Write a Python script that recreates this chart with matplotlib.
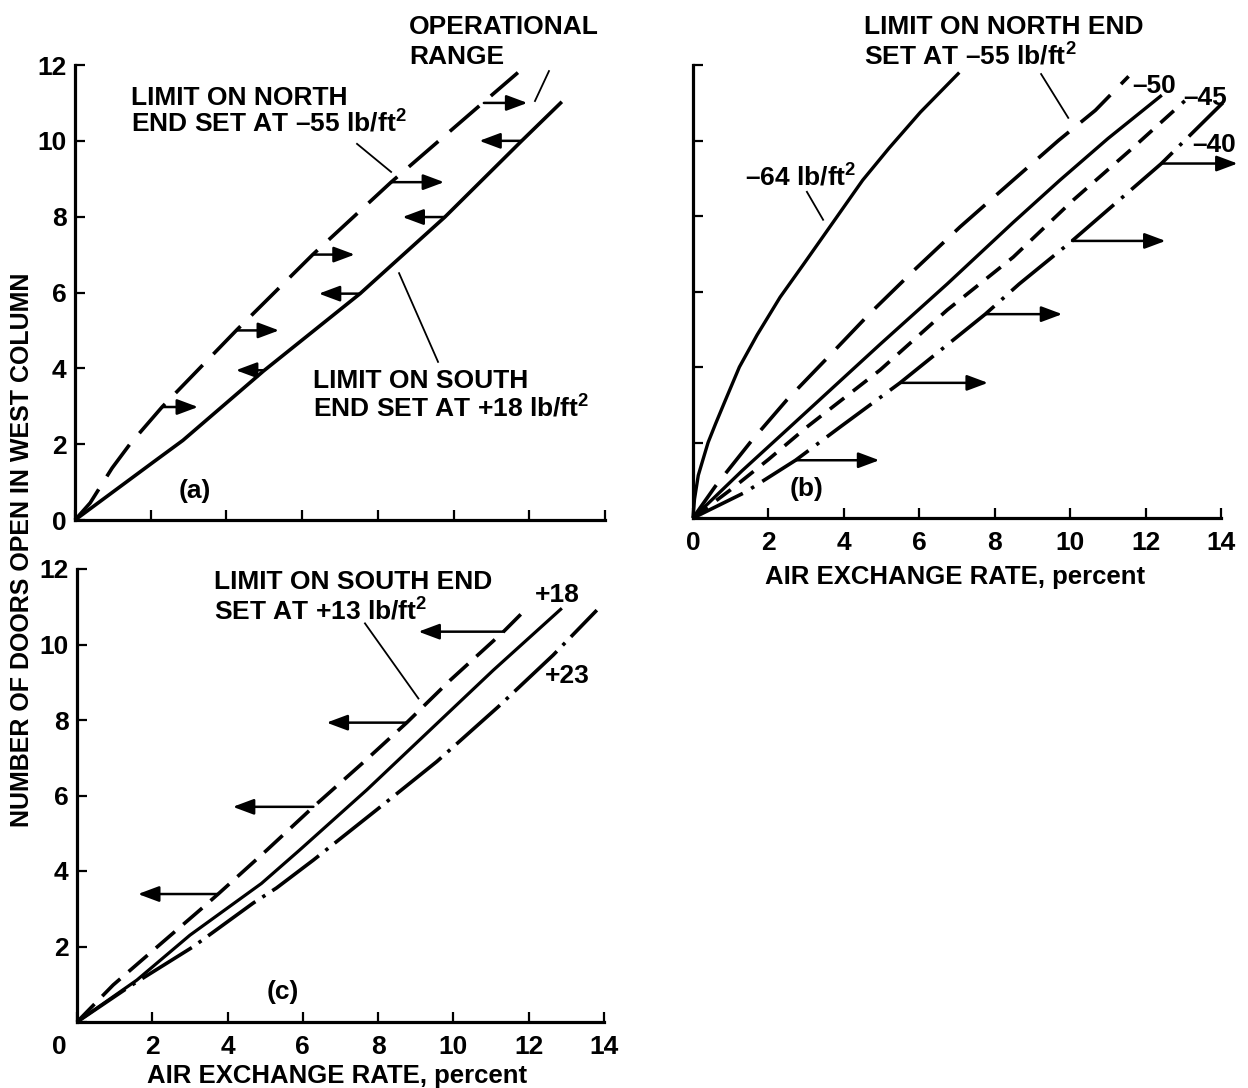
import matplotlib
matplotlib.use('Agg')
import matplotlib.pyplot as plt
from matplotlib.transforms import ScaledTranslation

plt.rcParams['font.family'] = ['Liberation Sans', 'DejaVu Sans']
plt.rcParams['font.weight'] = 'bold'
plt.rcParams['mathtext.fontset'] = 'custom'
plt.rcParams['mathtext.rm'] = 'Liberation Sans:bold'
plt.rcParams['mathtext.bf'] = 'Liberation Sans:bold'
plt.rcParams['mathtext.it'] = 'Liberation Sans:bold'
plt.rcParams['lines.scale_dashes'] = False

# ---------------- data ----------------
x_ticks = [0, 2, 4, 6, 8, 10, 12, 14]
y_ticks = [0, 2, 4, 6, 8, 10, 12]
x_tick_labels = ['0', '2', '4', '6', '8', '10', '12', '14']
y_tick_labels_a = ['0', '2', '4', '6', '8', '10', '12']
y_tick_labels_c = ['', '2', '4', '6', '8', '10', '12']

# Panel (a)
a_north_x = [0.0, 0.4, 0.98, 1.45, 2.3, 4.28, 6.28, 8.35, 10.77, 11.7]
a_north_y = [0.0, 0.45, 1.37, 2.0, 2.98, 5.02, 7.0, 8.91, 11.0, 11.8]
a_south_x = [0.0, 2.1, 2.85, 4.98, 7.53, 9.77, 11.8, 12.86]
a_south_y = [0.0, 1.55, 2.1, 3.93, 5.97, 7.99, 10.0, 11.03]
a_right_arrow_y = [2.98, 5.0, 7.0, 8.91, 11.0]
a_right_arrow_tail = [2.3, 4.28, 6.28, 8.35, 10.8]
a_right_arrow_tip = [3.25, 5.39, 7.39, 9.75, 11.95]
a_left_arrow_y = [3.95, 5.97, 7.99, 10.0]
a_left_arrow_tail = [4.98, 7.53, 9.77, 11.8]
a_left_arrow_tip = [4.25, 6.44, 8.65, 10.68]

# Panel (b)
b64_x = [0.0, 0.04, 0.14, 0.25, 0.4, 0.6, 0.85, 1.23, 1.7, 2.31, 2.93, 3.55, 4.5, 5.2, 6.03, 7.06]
b64_y = [0.0, 0.5, 1.13, 1.5, 2.0, 2.5, 3.1, 4.0, 4.85, 5.85, 6.72, 7.6, 8.95, 9.8, 10.75, 11.8]
b55_x = [0.0, 0.6, 1.54, 2.49, 3.6, 4.7, 5.9, 7.08, 8.49, 9.69, 10.67, 11.55]
b55_y = [0.0, 0.85, 2.03, 3.13, 4.28, 5.43, 6.6, 7.71, 8.95, 10.0, 10.8, 11.7]
b50_x = [0.0, 1.3, 2.57, 4.96, 6.74, 8.49, 9.73, 11.0, 12.43]
b50_y = [0.0, 1.25, 2.41, 4.6, 6.2, 7.83, 8.95, 10.05, 11.2]
b45_x = [0.0, 1.0, 2.0, 3.02, 4.96, 6.74, 8.49, 10.08, 11.6, 13.04]
b45_y = [0.0, 0.75, 1.55, 2.41, 3.92, 5.51, 6.91, 8.42, 9.75, 11.05]
b40_x = [0.0, 1.38, 2.72, 3.9, 5.49, 7.75, 8.65, 10.05, 12.42, 14.05]
b40_y = [0.0, 0.68, 1.53, 2.41, 3.58, 5.4, 6.2, 7.34, 9.39, 11.0]
b_arrow_y = [1.53, 3.58, 5.4, 7.34, 9.39]
b_arrow_tail = [2.72, 5.49, 7.75, 10.05, 12.42]
b_arrow_tip = [4.94, 7.82, 9.79, 12.53, 14.44]

# Panel (c)
c13_x = [0.0, 0.96, 2.13, 3.27, 3.75, 5.05, 6.28, 7.61, 8.76, 9.91, 11.33, 11.95]
c13_y = [0.0, 0.98, 1.99, 2.97, 3.39, 4.56, 5.70, 6.88, 7.93, 9.05, 10.34, 10.96]
c18_x = [0.0, 1.59, 3.0, 4.9, 5.92, 7.7, 9.47, 11.06, 12.88]
c18_y = [0.0, 1.11, 2.3, 3.67, 4.56, 6.15, 7.82, 9.32, 10.96]
c23_x = [0.0, 1.41, 3.08, 4.68, 5.3, 6.28, 7.96, 9.56, 11.19, 12.65, 13.81]
c23_y = [0.0, 0.95, 1.99, 3.15, 3.55, 4.29, 5.62, 6.9, 8.35, 9.72, 10.91]
c_arrow_y = [3.39, 5.7, 7.93, 10.34]
c_arrow_tail = [3.75, 6.28, 8.76, 11.33]
c_arrow_tip = [1.62, 4.14, 6.63, 9.07]

# ---------------- figure ----------------
W, H = 1248, 1088
fig = plt.figure(figsize=(W / 100, H / 100), dpi=100)


def box(l, t, r, b):
    return [l / W, 1 - b / H, (r - l) / W, (b - t) / H]


ax_a = fig.add_axes(box(75, 65, 605, 520))
ax_b = fig.add_axes(box(693, 65, 1221, 518))
ax_c = fig.add_axes(box(77, 569, 604, 1022))

TICK_FS = 19
for ax in (ax_a, ax_b, ax_c):
    ax.set_xlim(0, 14)
    ax.set_ylim(0, 12)
    ax.patch.set_visible(False)
    for s in ('top', 'right'):
        ax.spines[s].set_visible(False)
    for s in ('left', 'bottom'):
        ax.spines[s].set_linewidth(2.3)
        ax.spines[s].set_capstyle('projecting')
    ax.set_xticks(x_ticks)
    ax.set_yticks(y_ticks)
    ax.set_xticklabels(x_tick_labels, fontsize=TICK_FS, fontweight='bold')
    ax.tick_params(direction='in', length=7.5, width=1.6)
    ax.tick_params(axis='x', pad=9)
    ax.tick_params(axis='y', pad=6)

ax_a.set_yticklabels(y_tick_labels_a, fontsize=TICK_FS, fontweight='bold')
ax_a.tick_params(axis='x', labelbottom=False)
ax_b.set_yticklabels(y_tick_labels_a, fontsize=TICK_FS, fontweight='bold')
ax_b.tick_params(axis='y', labelleft=False)
ax_c.set_yticklabels(y_tick_labels_c, fontsize=TICK_FS, fontweight='bold')
lab0 = ax_c.get_xticklabels()[0]
lab0.set_transform(lab0.get_transform() + ScaledTranslation(-0.18, 0, fig.dpi_scale_trans))

LW = 2.6
K = 'black'


def curve(ax, x, y, ls='-', lw=LW):
    ax.plot(x, y, color=K, lw=lw, ls=ls, clip_on=False,
            solid_capstyle='butt', dash_capstyle='butt', solid_joinstyle='round')


def arrow(ax, tail, tip, y):
    ax.annotate('', xy=(tip, y), xytext=(tail, y), annotation_clip=False,
                arrowprops=dict(arrowstyle='-|>,head_length=0.75,head_width=0.28',
                                color=K, lw=1.8, mutation_scale=17,
                                shrinkA=0, shrinkB=0))


def pointer(ax, x, y):
    ax.plot(x, y, color=K, lw=1.3, clip_on=False)


# panel (a)
curve(ax_a, a_north_x, a_north_y, ls=(0, (28, 11)))
curve(ax_a, a_south_x, a_south_y)
for y, t0, t1 in zip(a_right_arrow_y, a_right_arrow_tail, a_right_arrow_tip):
    arrow(ax_a, t0, t1, y)
for y, t0, t1 in zip(a_left_arrow_y, a_left_arrow_tail, a_left_arrow_tip):
    arrow(ax_a, t0, t1, y)
pointer(ax_a, [7.45, 8.35], [9.92, 9.18])
pointer(ax_a, [8.56, 9.59], [6.51, 4.17])
pointer(ax_a, [12.15, 12.52], [11.05, 11.84])

# panel (b)
curve(ax_b, b64_x, b64_y, lw=2.4)
curve(ax_b, b55_x, b55_y, ls=(0, (29, 11)))
curve(ax_b, b50_x, b50_y, lw=2.4)
curve(ax_b, b45_x, b45_y, ls=(0, (13, 8)))
curve(ax_b, b40_x, b40_y, ls=(0, (40, 7, 2.5, 7)))
for y, t0, t1 in zip(b_arrow_y, b_arrow_tail, b_arrow_tip):
    arrow(ax_b, t0, t1, y)
pointer(ax_b, [3.02, 3.45], [8.64, 7.9])
pointer(ax_b, [9.23, 9.95], [11.76, 10.6])

# panel (c)
curve(ax_c, c13_x, c13_y, ls=(0, (18, 8)))
curve(ax_c, c18_x, c18_y, lw=2.3)
curve(ax_c, c23_x, c23_y, ls=(0, (42, 6, 2.5, 6)))
for y, t0, t1 in zip(c_arrow_y, c_arrow_tail, c_arrow_tip):
    arrow(ax_c, t0, t1, y)
pointer(ax_c, [7.65, 9.07], [10.56, 8.57])

# ---------------- texts ----------------
SUP = r'$^{\mathbf{2}}$'


def ftext(px, py, s, size=19, ha='left'):
    fig.text(px / W, 1 - py / H, s, ha=ha, va='baseline', fontsize=size,
             fontweight='bold')


ftext(409, 34, 'OPERATIONAL')
ftext(409, 64, 'RANGE')
ftext(131, 105, 'LIMIT ON NORTH')
ftext(131, 132, 'END SET AT \u201355 lb/ft' + SUP)
ftext(313, 388, 'LIMIT ON SOUTH')
ftext(313, 417, 'END SET AT +18 lb/ft' + SUP)
ftext(195, 498, '(a)', size=19, ha='center')

ftext(864, 34, 'LIMIT ON NORTH END')
ftext(864, 65, 'SET AT \u201355 lb/ft' + SUP)
ftext(745, 186, '\u201364 lb/ft' + SUP)
ftext(1132, 93, '\u201350', size=19)
ftext(1183, 105, '\u201345', size=19)
ftext(1192, 152, '\u201340', size=19)
ftext(807, 496, '(b)', size=19, ha='center')
ftext(955, 584, 'AIR EXCHANGE RATE, percent', size=18.5, ha='center')

ftext(214, 589, 'LIMIT ON SOUTH END')
ftext(214, 620, 'SET AT +13 lb/ft' + SUP)
ftext(535, 602, '+18', size=19)
ftext(545, 683, '+23', size=19)
ftext(283, 999, '(c)', size=19, ha='center')
ftext(337, 1083, 'AIR EXCHANGE RATE, percent', size=18.5, ha='center')

fig.text(22 / W, 1 - 550 / H, 'NUMBER OF DOORS OPEN IN WEST COLUMN', rotation=90,
         ha='center', va='center', fontsize=18, fontweight='bold')

fig.savefig('out.png', dpi=100, facecolor='white')
